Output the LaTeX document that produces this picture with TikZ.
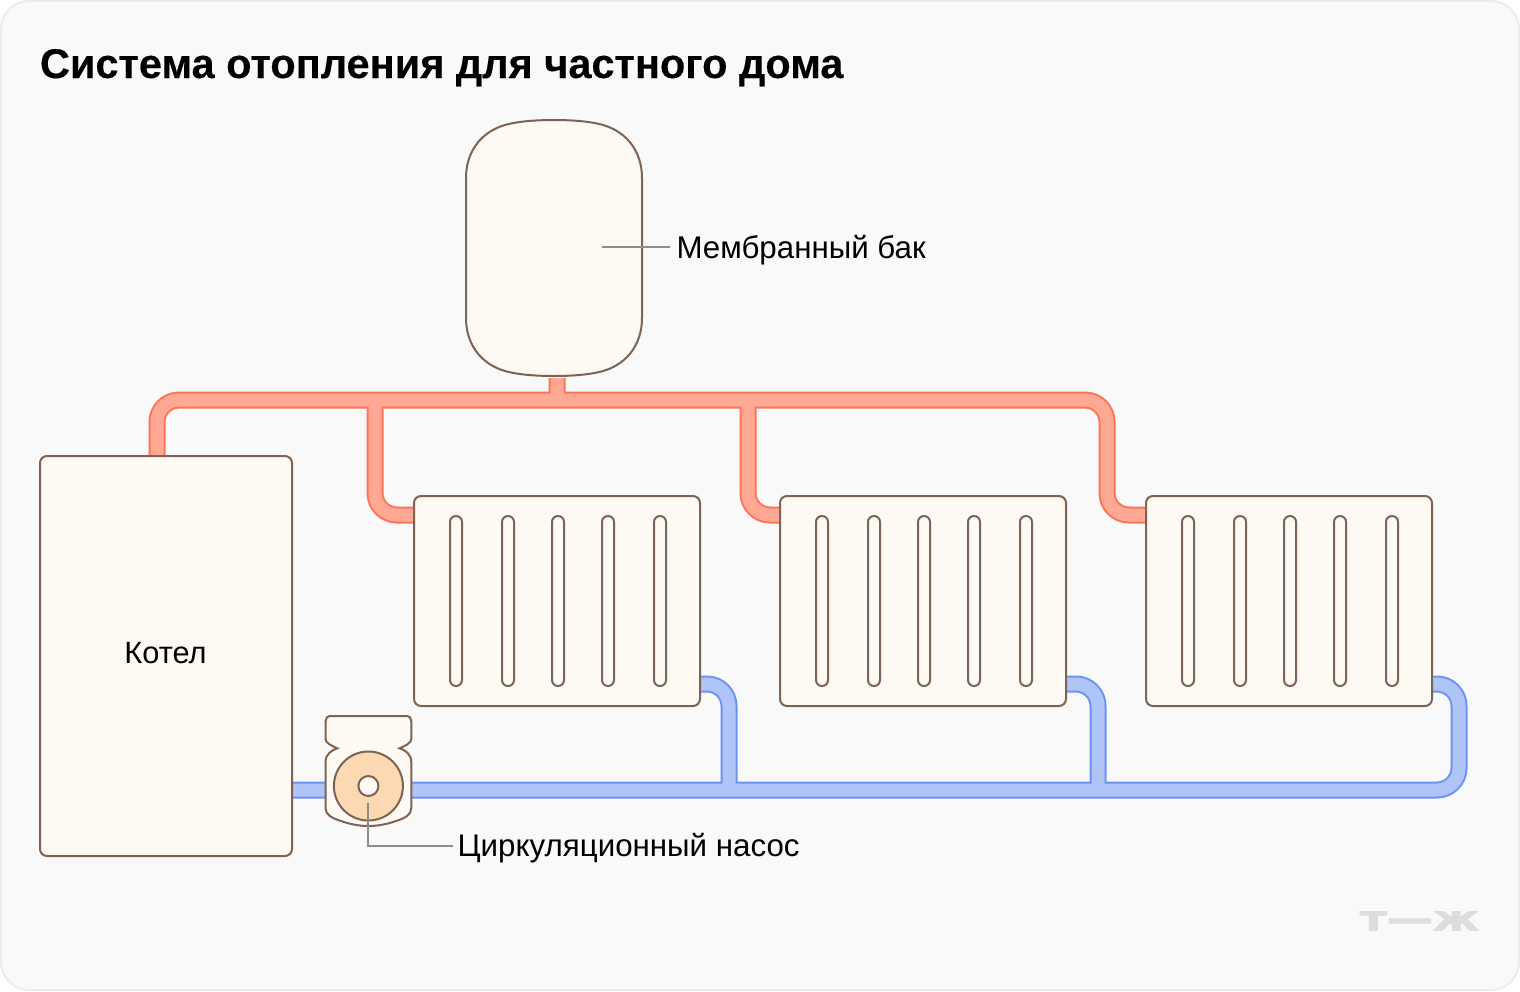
\documentclass[tikz,border=0pt]{standalone}
\usepackage{fontspec}
\setmainfont{Liberation Sans}
\newfontfamily\titlefont[FakeBold=0.25]{Liberation Sans Bold}
\newfontfamily\logofont[FakeBold=2.2]{DejaVu Sans Bold}
\usetikzlibrary{calc}
\definecolor{brownline}{HTML}{7D6353}
\definecolor{cream}{HTML}{FFF9F3}
\definecolor{rededge}{HTML}{FF7359}
\definecolor{redfill}{HTML}{FFA894}
\definecolor{blueedge}{HTML}{6B93F5}
\definecolor{bluefill}{HTML}{AFC5F8}
\definecolor{pumpfill}{HTML}{FCD9B3}
\definecolor{paper}{HTML}{F9F9F9}
\definecolor{paperedge}{HTML}{ECECEC}
\definecolor{logo}{HTML}{DDDDDD}
\definecolor{leader}{HTML}{8C8C8C}
\pgfdeclarelayer{pipes}
\pgfsetlayers{pipes,main}
\tikzset{
  unit/.style={draw=brownline,fill=cream,line width=2pt,rounded corners=7pt,inner sep=0pt,outer sep=0pt},
  radiator/.style={unit,minimum width=286pt,minimum height=210pt},
  slot/.style={draw=brownline,fill=cream,line width=2pt,inner sep=0pt,outer sep=0pt,rounded corners=5.9pt,minimum width=12pt,minimum height=170pt},
  leaderline/.style={draw=leader,line width=1.3pt},
  label/.style={inner sep=0pt,outer sep=0pt,anchor=base west,font=\fontsize{31.3}{36}\selectfont,text=black},
}
\newcommand{\radiatorat}[2]{%
  \node[radiator,anchor=north west] (#1) at (#2,496) {};
  \foreach \sx/\sn in {42/a,94/b,144/c,194/d,246/e}
    \node[slot,anchor=north] (#1\sn) at ($(#1.north west)+(\sx,20)$) {};
}
\newcommand{\redpaths}{
  ($(boiler.north west)+(117,4)$) [rounded corners=22pt] -- (157,400) -- (1107,400) -- (1107,515) -- ($(radC.north west)+(4,19)$)
  [sharp corners]
  (375,400) [rounded corners=22pt] -- (375,515) -- ($(radA.north west)+(4,19)$)
  [sharp corners]
  (748,400) [rounded corners=22pt] -- (748,515) -- ($(radB.north west)+(4,19)$)
  [sharp corners]
  (tankbottom) -- (557,400)
}
\newcommand{\bluepaths}{
  ($(boiler.south east)+(-4,-66)$) [rounded corners=22pt] -- (1459,790) -- (1459,684) -- ($(radC.south east)+(-4,-22)$)
  [sharp corners]
  (729,790) [rounded corners=22pt] -- (729,684) -- ($(radA.south east)+(-4,-22)$)
  [sharp corners]
  (1098,790) [rounded corners=22pt] -- (1098,684) -- ($(radB.south east)+(-4,-22)$)
}
\begin{document}
\begin{tikzpicture}[x=1pt,y=-1pt]
\useasboundingbox (0,0) rectangle (1520,991);
\begin{pgfonlayer}{pipes}
  \draw[draw=paperedge,fill=paper,line width=2pt,rounded corners=28pt] (1,1) rectangle (1519,990);
\end{pgfonlayer}
\node[inner sep=0pt,outer sep=0pt,anchor=base west,font=\fontsize{41.5}{48}\selectfont\titlefont] (title) at (40,78) {Система отопления для частного дома};
% tank
\coordinate (tankbottom) at (557,378);
\draw[draw=brownline,fill=cream,line width=2pt]
  (554,120) .. controls (570,120) and (585,121) .. (597,123.5)
  .. controls (625,129) and (642,150) .. (642,178) -- (642,318)
  .. controls (642,346) and (625,367) .. (597,372.5)
  .. controls (585,375) and (570,376) .. (554,376)
  .. controls (538,376) and (523,375) .. (511,372.5)
  .. controls (483,367) and (466,346) .. (466,318) -- (466,178)
  .. controls (466,150) and (483,129) .. (511,123.5)
  .. controls (523,121) and (538,120) .. (554,120) -- cycle;
% boiler
\node[unit,anchor=north west,minimum width=252pt,minimum height=400pt,font=\fontsize{30.8}{36}\selectfont] (boiler) at (40,456) {\raisebox{6pt}{Котел\hspace{1pt}}};
\radiatorat{radA}{414}
\radiatorat{radB}{780}
\radiatorat{radC}{1146}
% pipes
\begin{pgfonlayer}{pipes}
  \draw[rededge,line width=17pt] \redpaths;
  \draw[redfill,line width=13pt] \redpaths;
  \draw[blueedge,line width=17pt] \bluepaths;
  \draw[bluefill,line width=13pt] \bluepaths;
\end{pgfonlayer}
% pump
\draw[draw=brownline,fill=cream,line width=2pt]
  (331,716) -- (406,716) .. controls (409.5,716) and (411.3,718) .. (411.3,721) -- (411.3,739)
  .. controls (411.3,743) and (405,746) .. (399.5,748.3)
  .. controls (405,750) and (411.3,754) .. (411.3,762) -- (411.3,808)
  .. controls (411.3,815) and (405,818) .. (396,821)
  .. controls (385,825) and (375,826) .. (368.4,826)
  .. controls (362,826) and (352,825) .. (341,821)
  .. controls (332,818) and (325.5,815) .. (325.5,808) -- (325.5,762)
  .. controls (325.5,754) and (332,750) .. (337.3,748.3)
  .. controls (332,746) and (325.5,743) .. (325.5,739) -- (325.5,721)
  .. controls (325.5,718) and (327.5,716) .. (331,716) -- cycle;
\node[circle,draw=brownline,fill=pumpfill,line width=2pt,minimum size=69pt,inner sep=0pt,outer sep=0pt] (rotor) at (368.4,786) {};
\node[circle,draw=brownline,fill=cream,line width=2pt,minimum size=20pt,inner sep=0pt,outer sep=0pt] (hub) at (368.4,786) {};
% labels
\node[label] (tanklabel) at (676.5,258) {Мембранный бак};
\node[label] (pumplabel) at (457.5,856) {Циркуляционный насос};
\coordinate (tankpoint) at (602,247);
\coordinate (pumppoint) at (368,803);
\draw[leaderline] (tankpoint) -- (670,247);
\draw[leaderline] (pumppoint) |- (453,846);
% logo
\node[inner sep=0pt,outer sep=0pt,text=logo,anchor=center] (brand) at (1419.5,921) {\resizebox{119pt}{19pt}{\logofont т—ж}};
\end{tikzpicture}
\end{document}
